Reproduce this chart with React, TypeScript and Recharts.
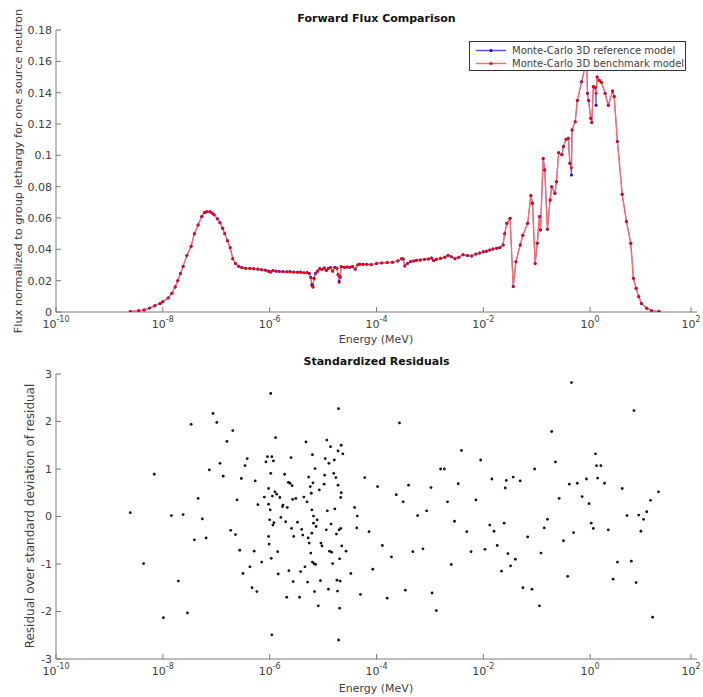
import React from "react"
import {
    LineChart,
    Line,
    ScatterChart,
    Scatter,
    XAxis,
    YAxis,
    Legend,
} from "recharts"

// log10 of energy (MeV) for the flux curve
const fluxLogEnergy = [
    -8.61, -8.45, -8.35, -8.25, -8.15, -8.05, -8.0, -7.9, -7.83, -7.77,
    -7.72, -7.67, -7.62, -7.55, -7.47, -7.41, -7.34, -7.27, -7.22, -7.18,
    -7.12, -7.08, -7.04, -6.98, -6.93, -6.88, -6.84, -6.79, -6.74, -6.69,
    -6.64, -6.58, -6.52, -6.45, -6.37, -6.3, -6.22, -6.15, -6.08, -6.02,
    -5.98, -5.94, -5.88, -5.82, -5.75, -5.68, -5.62, -5.55, -5.48, -5.42,
    -5.36, -5.3, -5.26, -5.23, -5.21, -5.19, -5.17, -5.14, -5.1, -5.06,
    -5.02, -4.98, -4.94, -4.9, -4.86, -4.82, -4.78, -4.74, -4.72, -4.7,
    -4.68, -4.66, -4.6, -4.55, -4.5, -4.45, -4.4, -4.35, -4.31, -4.25,
    -4.18, -4.1, -4.0, -3.9, -3.8, -3.7, -3.6, -3.53, -3.5, -3.47,
    -3.42, -3.36, -3.3, -3.25, -3.18, -3.1, -3.03, -2.97, -2.93, -2.88,
    -2.8, -2.72, -2.66, -2.6, -2.53, -2.46, -2.38, -2.3, -2.22, -2.14,
    -2.07, -2.0, -1.94, -1.88, -1.82, -1.75, -1.69, -1.63, -1.6, -1.56,
    -1.5, -1.44, -1.39, -1.31, -1.26, -1.17, -1.11, -1.08, -1.03, -0.99,
    -0.95, -0.93, -0.88, -0.85, -0.8, -0.75, -0.72, -0.66, -0.63, -0.59,
    -0.53, -0.5, -0.45, -0.41, -0.38, -0.35, -0.34, -0.28, -0.24, -0.16,
    -0.1, -0.07, -0.05, -0.03, 0.01, 0.03, 0.06, 0.09, 0.11, 0.13,
    0.17, 0.21, 0.28, 0.34, 0.42, 0.45, 0.51, 0.6, 0.68, 0.76,
    0.81, 0.86, 0.91, 0.96, 1.06, 1.15, 1.29,
]

const referenceFlux = [
    0.0003, 0.0008, 0.0013, 0.0025, 0.004, 0.0055, 0.0066, 0.009, 0.012, 0.016,
    0.02, 0.0245, 0.029, 0.036, 0.042, 0.05, 0.0556, 0.061, 0.0635, 0.064,
    0.064, 0.0632, 0.062, 0.0595, 0.057, 0.0535, 0.05, 0.0455, 0.041, 0.034,
    0.031, 0.0292, 0.0283, 0.028, 0.0279, 0.0276, 0.0274, 0.027, 0.0268, 0.0262,
    0.0256, 0.0265, 0.0262, 0.026, 0.0259, 0.0257, 0.0258, 0.0256, 0.0254, 0.0255,
    0.0251, 0.0252, 0.0247, 0.0222, 0.0175, 0.0165, 0.0215, 0.0248, 0.0262, 0.0278,
    0.0272, 0.0283, 0.0266, 0.028, 0.0284, 0.0262, 0.0285, 0.0281, 0.024, 0.0195,
    0.0225, 0.029, 0.0285, 0.0288, 0.0286, 0.029, 0.0274, 0.0302, 0.0306, 0.0304,
    0.0305, 0.0302, 0.031, 0.0313, 0.0316, 0.0318, 0.0326, 0.034, 0.0338, 0.0294,
    0.031, 0.0322, 0.0326, 0.033, 0.0332, 0.0336, 0.0338, 0.0344, 0.0328, 0.0337,
    0.0343, 0.035, 0.0362, 0.0352, 0.034, 0.035, 0.0366, 0.036, 0.0358, 0.037,
    0.0376, 0.0385, 0.0388, 0.0395, 0.0402, 0.0407, 0.0412, 0.0428, 0.05, 0.0566,
    0.0598, 0.0162, 0.032, 0.0428, 0.049, 0.0566, 0.0743, 0.0694, 0.031, 0.0439,
    0.0609, 0.0524, 0.098, 0.0907, 0.0528, 0.0715, 0.08, 0.0758, 0.0832, 0.1017,
    0.1003, 0.1056, 0.1103, 0.1109, 0.095, 0.0875, 0.1162, 0.1215, 0.135, 0.147,
    0.1556, 0.168, 0.1396, 0.135, 0.1237, 0.121, 0.1439, 0.1435, 0.132, 0.15,
    0.148, 0.1467, 0.1396, 0.132, 0.141, 0.1375, 0.1088, 0.0752, 0.0577, 0.0439,
    0.0215, 0.0151, 0.0098, 0.0055, 0.0024, 0.0008, 0.0003,
]

const benchmarkFlux = [
    0.0003, 0.0008, 0.0013, 0.0025, 0.004, 0.0055, 0.0066, 0.009, 0.012, 0.016,
    0.02, 0.0245, 0.029, 0.036, 0.042, 0.05, 0.0556, 0.061, 0.0635, 0.064,
    0.064, 0.0632, 0.062, 0.0595, 0.057, 0.0535, 0.05, 0.0455, 0.041, 0.034,
    0.031, 0.0292, 0.0283, 0.0279, 0.0278, 0.0276, 0.0273, 0.027, 0.0266, 0.0258,
    0.0255, 0.0263, 0.026, 0.0258, 0.0256, 0.0257, 0.0255, 0.0254, 0.0254, 0.0253,
    0.025, 0.0251, 0.0245, 0.0218, 0.0168, 0.0158, 0.0212, 0.0246, 0.026, 0.0275,
    0.027, 0.028, 0.0264, 0.0279, 0.0282, 0.0259, 0.0283, 0.0279, 0.0236, 0.0188,
    0.022, 0.0288, 0.0284, 0.0287, 0.0285, 0.0289, 0.0273, 0.0301, 0.0305, 0.0303,
    0.0305, 0.0302, 0.031, 0.0313, 0.0316, 0.0318, 0.0326, 0.034, 0.0338, 0.0294,
    0.031, 0.0322, 0.0326, 0.033, 0.0332, 0.0336, 0.0338, 0.0344, 0.0328, 0.0337,
    0.0343, 0.035, 0.0362, 0.0352, 0.034, 0.035, 0.0366, 0.036, 0.0358, 0.037,
    0.0376, 0.0385, 0.0388, 0.0395, 0.0402, 0.0407, 0.0412, 0.0428, 0.05, 0.0566,
    0.0598, 0.0162, 0.032, 0.0428, 0.049, 0.0566, 0.0743, 0.0694, 0.031, 0.0439,
    0.0609, 0.0524, 0.098, 0.0907, 0.0528, 0.0715, 0.08, 0.0758, 0.0832, 0.1017,
    0.1003, 0.1056, 0.1103, 0.1109, 0.095, 0.092, 0.1162, 0.1215, 0.135, 0.147,
    0.1556, 0.168, 0.1396, 0.135, 0.1237, 0.121, 0.1439, 0.1435, 0.1396, 0.15,
    0.148, 0.1467, 0.1396, 0.132, 0.141, 0.1375, 0.1088, 0.0752, 0.0577, 0.0439,
    0.0215, 0.0151, 0.0098, 0.0055, 0.0024, 0.0008, 0.0003,
]

// log10 of energy (MeV) for each standardized residual
const residualLogEnergy = [
    -8.61, -8.36, -8.16, -7.99, -7.84, -7.71, -7.62, -7.54, -7.47, -7.41,
    -7.34, -7.26, -7.19, -7.13, -7.06, -6.99, -6.93, -6.87, -6.8, -6.73,
    -6.69, -6.64, -6.61, -6.56, -6.53, -6.5, -6.46, -6.42, -6.37, -6.33,
    -6.29, -6.27, -6.24, -6.22, -6.15, -6.1, -6.07, -6.04, -6.02, -6.02,
    -6.02, -6.01, -6.0, -5.99, -5.98, -5.98, -5.97, -5.96, -5.96, -5.95,
    -5.94, -5.93, -5.92, -5.9, -5.89, -5.87, -5.85, -5.84, -5.81, -5.79,
    -5.76, -5.75, -5.72, -5.7, -5.68, -5.67, -5.65, -5.64, -5.62, -5.6,
    -5.59, -5.58, -5.57, -5.56, -5.55, -5.51, -5.48, -5.44, -5.42, -5.4,
    -5.38, -5.36, -5.34, -5.32, -5.3, -5.29, -5.28, -5.27, -5.26, -5.24,
    -5.23, -5.22, -5.21, -5.21, -5.2, -5.2, -5.19, -5.18, -5.18, -5.17,
    -5.16, -5.15, -5.14, -5.13, -5.11, -5.09, -5.07, -5.05, -5.04, -5.02,
    -4.98, -4.97, -4.96, -4.94, -4.93, -4.92, -4.9, -4.89, -4.88, -4.86,
    -4.85, -4.84, -4.82, -4.8, -4.79, -4.78, -4.76, -4.75, -4.74, -4.73,
    -4.72, -4.72, -4.71, -4.71, -4.7, -4.69, -4.69, -4.68, -4.67, -4.67,
    -4.66, -4.66, -4.65, -4.63, -4.57,
    -4.48, -4.41, -4.37, -4.36, -4.3, -4.22, -4.14, -4.07, -3.98, -3.89,
    -3.8, -3.72, -3.63, -3.57, -3.5, -3.46, -3.4, -3.32, -3.23, -3.13,
    -3.06, -2.98, -2.96, -2.88, -2.8, -2.73, -2.67, -2.6, -2.54, -2.47,
    -2.41, -2.31, -2.23, -2.14, -2.05, -1.97, -1.88, -1.84, -1.8, -1.74,
    -1.66, -1.61, -1.59, -1.57, -1.54, -1.49, -1.44, -1.4, -1.31, -1.26,
    -1.17, -1.09, -1.04, -0.95, -0.92, -0.86, -0.8, -0.72, -0.65, -0.58,
    -0.5, -0.42, -0.39, -0.35, -0.31, -0.24, -0.15, -0.07, -0.02, 0.02,
    0.06, 0.1, 0.12, 0.14, 0.2, 0.27, 0.34, 0.43, 0.51, 0.6,
    0.69, 0.77, 0.82, 0.86, 0.91, 0.95, 1.0, 1.06, 1.13, 1.17,
    1.28,
]

const residualValues = [
    0.08, -0.99, 0.89, -2.13, 0.02, -1.36, 0.04, -2.03, 1.94, -0.49,
    0.38, -0.05, -0.45, 0.98, 2.17, 1.98, 1.12, 0.85, 1.58, -0.29,
    1.81, -0.38, 0.35, -0.71, 0.8, -1.2, 1.07, 1.22, -1.06, -1.5,
    -0.73, 0.75, -1.58, 0.25, -0.96, 0.41, 1.15, 1.26, 0.26, 0.59,
    -0.42, -0.58, -0.07, 0.14, 2.59, 0.91, -0.88, 1.26, -2.49, 0.43,
    -0.18, 1.17, -0.13, 0.52, 1.66, 0.47, -0.74, -1.21, 0.4, -0.02,
    0.21, 0.24, 0.89, -0.11, -1.7, 0.19, 0.72, -1.14, 0.7, 1.24,
    -0.25, 0.65, 0.36, -1.37, -0.42, 0.38, -0.12, -1.7, -1.16, -0.27,
    -0.39, 0.41, -1.06, 1.57, 0.31, -1.38, -0.45, 0.83, -0.56, 0.63,
    -0.77, 0.49, -0.35, 0.14, -0.96, 1.3, 0.71, 0.01, -0.14, -0.99,
    -1.58, 1.01, -1.01, -0.21, -0.07, -1.88, 0.56, -1.35, -0.56, -0.62,
    0.68, 0.87, 1.22, -0.28, 1.61, 0.12, -1.53, 1.12, -0.73, 1.47,
    -0.16, -0.75, -0.99, 0.91, 1.19, 0.16, 0.82, -0.37, -1.34, -1.57,
    1.38, 0.66, 2.27, -2.6, -0.28, -0.89, -1.93, -1.36, 0.4, -0.25,
    0.5, 1.5, -0.62, 1.32, -0.73,
    -1.2, 0.19, -0.24, 0.01, -1.64, 0.82, -0.32, -1.11, 0.63, -0.61,
    -1.72, -0.85, 0.46, 1.97, 0.31, -1.55, 0.66, -0.74, 0.02, -0.68,
    0.12, 0.61, -1.61, -1.98, 1.0, 1.0, 0.31, -1.01, -0.1, 0.69,
    1.39, -0.32, -0.74, 0.35, 1.19, -0.69, -0.18, 0.79, -0.31, -0.61,
    -1.15, -0.14, 0.6, 0.76, -0.78, -1.04, 0.83, -0.9, 0.75, -1.5,
    -0.43, -1.53, 1.0, -1.88, -0.77, -0.24, -0.06, 1.79, 1.15, 0.38,
    -0.51, -1.26, 0.68, 2.82, -0.34, 0.7, 0.42, 0.79, 0.27, -0.14,
    -0.25, 1.32, 1.07, 0.81, 1.07, 0.7, -0.28, -1.32, -0.96, 0.59,
    0.02, -0.94, 2.23, -1.39, 0.03, -0.31, -0.06, 0.1, 0.34, -2.12,
    0.52,
]

const energyTicks = [1e-10, 1e-8, 1e-6, 1e-4, 1e-2, 1, 1e2]
const fluxTicks = [0, 0.02, 0.04, 0.06, 0.08, 0.1, 0.12, 0.14, 0.16, 0.18]
const residualTicks = [-3, -2, -1, 0, 1, 2, 3]

const FONT = "'DejaVu Sans', sans-serif"
const AXIS = "#7a7a7a"
const TEXT = "#404040"

const fluxData = fluxLogEnergy.map((e, i) => ({
    energy: 10 ** e,
    reference: referenceFlux[i],
    benchmark: benchmarkFlux[i],
}))

const residualData = residualLogEnergy.map((e, i) => ({
    energy: 10 ** e,
    residual: residualValues[i],
}))

function EnergyTick(props: any) {
    const { x, y, payload, top } = props
    if (top) {
        return <line x1={x} x2={x} y1={y} y2={y + 5} stroke={AXIS} />
    }
    const exp = Math.round(Math.log10(payload.value))
    return (
        <g>
            <line x1={x} x2={x} y1={y} y2={y - 5} stroke={AXIS} />
            <text x={x} y={y + 16} textAnchor="middle" fontSize={11} fill={TEXT} fontFamily={FONT}>
                10
                <tspan dy={-6} fontSize={8}>{exp}</tspan>
            </text>
        </g>
    )
}

function ValueTick(props: any) {
    const { x, y, payload, right } = props
    if (right) {
        return <line x1={x} x2={x - 5} y1={y} y2={y} stroke={AXIS} />
    }
    const label = String(Number(Number(payload.value).toFixed(2)))
    return (
        <g>
            <line x1={x} x2={x + 5} y1={y} y2={y} stroke={AXIS} />
            <text x={x - 4} y={y} dy="0.35em" textAnchor="end" fontSize={11} fill={TEXT} fontFamily={FONT}>
                {label}
            </text>
        </g>
    )
}

function FluxLegend() {
    const rows = [
        { color: "#0000ff", line: "#4d4dff", label: "Monte-Carlo 3D reference model" },
        { color: "#ff0000", line: "#ff6666", label: "Monte-Carlo 3D benchmark model" },
    ]
    return (
        <div
            style={{
                width: 217,
                height: 30,
                boxSizing: "border-box",
                border: "1px solid #333",
                background: "#fff",
                paddingTop: 2,
            }}
        >
            {rows.map((r) => (
                <div key={r.label} style={{ display: "flex", alignItems: "center", height: 13 }}>
                    <svg width={42} height={13}>
                        <line x1={6} x2={36} y1={6.5} y2={6.5} stroke={r.line} strokeWidth={1.4} />
                        <circle cx={21} cy={6.5} r={1.5} fill={r.color} />
                    </svg>
                    <span style={{ fontFamily: FONT, fontSize: 10, color: TEXT, whiteSpace: "nowrap" }}>
                        {r.label}
                    </span>
                </div>
            ))}
        </div>
    )
}

function Title({ text, top }: { text: string; top: number }) {
    return (
        <div
            style={{
                position: "absolute",
                left: 56,
                width: 641,
                top,
                textAlign: "center",
                fontFamily: FONT,
                fontWeight: "bold",
                fontSize: 11,
                color: "#111",
            }}
        >
            {text}
        </div>
    )
}

function AxisLabel({ text, x, y, rotate, size = 11 }: { text: string; x: number; y: number; rotate?: boolean; size?: number }) {
    return (
        <div
            style={{
                position: "absolute",
                left: x,
                top: y,
                transform: `translate(-50%, -50%)${rotate ? " rotate(-90deg)" : ""}`,
                whiteSpace: "nowrap",
                fontFamily: FONT,
                fontSize: size,
                color: TEXT,
            }}
        >
            {text}
        </div>
    )
}

export default function App() {
    return (
        <div style={{ position: "absolute", left: 0, top: 0, width: 703, height: 697, background: "#fff" }}>
            <div style={{ position: "absolute", left: 0, top: 0 }}>
                <LineChart
                    width={703}
                    height={350}
                    data={fluxData}
                    margin={{ top: 30, right: 6, bottom: 8, left: 0 }}
                >
                    <XAxis
                        dataKey="energy"
                        type="number"
                        scale="log"
                        domain={[1e-10, 100]}
                        ticks={energyTicks}
                        allowDataOverflow
                        height={30}
                        tickSize={0}
                        tickMargin={0}
                        stroke={AXIS}
                        tick={<EnergyTick />}
                    />
                    <XAxis
                        xAxisId="top"
                        orientation="top"
                        dataKey="energy"
                        type="number"
                        scale="log"
                        domain={[1e-10, 100]}
                        ticks={energyTicks}
                        allowDataOverflow
                        height={0}
                        tickSize={0}
                        tickMargin={0}
                        stroke={AXIS}
                        tick={<EnergyTick top />}
                    />
                    <YAxis
                        type="number"
                        domain={[0, 0.18]}
                        ticks={fluxTicks}
                        allowDataOverflow
                        width={56}
                        tickSize={0}
                        tickMargin={0}
                        stroke={AXIS}
                        tick={<ValueTick />}
                    />
                    <YAxis
                        yAxisId="right"
                        orientation="right"
                        type="number"
                        domain={[0, 0.18]}
                        ticks={fluxTicks}
                        allowDataOverflow
                        width={0}
                        tickSize={0}
                        tickMargin={0}
                        stroke={AXIS}
                        tick={<ValueTick right />}
                    />
                    <Line
                        dataKey="reference"
                        name="Monte-Carlo 3D reference model"
                        type="linear"
                        stroke="#4d4dff"
                        strokeWidth={0.8}
                        dot={{ r: 1.5, fill: "#0000ff", stroke: "none" }}
                        isAnimationActive={false}
                    />
                    <Line
                        dataKey="benchmark"
                        name="Monte-Carlo 3D benchmark model"
                        type="linear"
                        stroke="#ff6666"
                        strokeWidth={1.4}
                        dot={{ r: 1.4, fill: "#ff0000", stroke: "none" }}
                        isAnimationActive={false}
                    />
                    <Legend
                        layout="horizontal"
                        verticalAlign="middle"
                        content={<FluxLegend />}
                        wrapperStyle={{ left: 469, top: 41, width: 217 }}
                    />
                </LineChart>
            </div>
            <Title text="Forward Flux Comparison" top={12} />
            <AxisLabel text="Energy (MeV)" x={376} y={339} />
            <AxisLabel text="Flux normalized to group lethargy for one source neutron" x={18} y={171} rotate size={11.3} />

            <div style={{ position: "absolute", left: 0, top: 350 }}>
                <ScatterChart
                    width={703}
                    height={347}
                    margin={{ top: 24, right: 6, bottom: 8, left: 0 }}
                >
                    <XAxis
                        dataKey="energy"
                        type="number"
                        scale="log"
                        domain={[1e-10, 100]}
                        ticks={energyTicks}
                        allowDataOverflow
                        height={30}
                        tickSize={0}
                        tickMargin={0}
                        stroke={AXIS}
                        tick={<EnergyTick />}
                    />
                    <XAxis
                        xAxisId="top"
                        orientation="top"
                        dataKey="energy"
                        type="number"
                        scale="log"
                        domain={[1e-10, 100]}
                        ticks={energyTicks}
                        allowDataOverflow
                        height={0}
                        tickSize={0}
                        tickMargin={0}
                        stroke={AXIS}
                        tick={<EnergyTick top />}
                    />
                    <YAxis
                        dataKey="residual"
                        type="number"
                        domain={[-3, 3]}
                        ticks={residualTicks}
                        allowDataOverflow
                        width={56}
                        tickSize={0}
                        tickMargin={0}
                        stroke={AXIS}
                        tick={<ValueTick />}
                    />
                    <YAxis
                        yAxisId="right"
                        orientation="right"
                        type="number"
                        domain={[-3, 3]}
                        ticks={residualTicks}
                        allowDataOverflow
                        width={0}
                        tickSize={0}
                        tickMargin={0}
                        stroke={AXIS}
                        tick={<ValueTick right />}
                    />
                    <Scatter
                        data={residualData}
                        fill="#111"
                        isAnimationActive={false}
                        shape={(p: any) => <circle cx={p.cx} cy={p.cy} r={1.4} fill="#111" />}
                    />
                </ScatterChart>
            </div>
            <Title text="Standardized Residuals" top={355} />
            <AxisLabel text="Energy (MeV)" x={376} y={688} />
            <AxisLabel text="Residual over standard deviation of residual" x={30} y={516} rotate size={12} />
        </div>
    )
}
